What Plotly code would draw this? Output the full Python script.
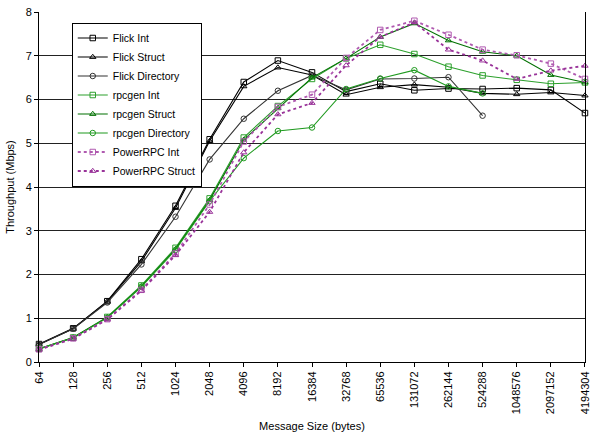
import plotly.graph_objects as go

sizes = ["64", "128", "256", "512", "1024", "2048", "4096", "8192", "16384",
         "32768", "65536", "131072", "262144", "524288", "1048576", "2097152", "4194304"]

flick_int = [0.41, 0.77, 1.39, 2.35, 3.57, 5.09, 6.40, 6.89, 6.62, 6.18, 6.36, 6.21, 6.25, 6.24, 6.26, 6.22, 5.69]
flick_struct = [0.40, 0.76, 1.38, 2.30, 3.52, 5.05, 6.30, 6.73, 6.56, 6.11, 6.28, 6.34, 6.28, 6.14, 6.12, 6.16, 6.09]
flick_dir = [0.40, 0.76, 1.36, 2.23, 3.32, 4.63, 5.56, 6.20, 6.55, 6.22, 6.47, 6.48, 6.51, 5.63]
rpcgen_int = [0.30, 0.56, 1.03, 1.75, 2.61, 3.74, 5.13, 5.85, 6.47, 6.94, 7.25, 7.04, 6.75, 6.55, 6.45, 6.36, 6.39]
rpcgen_struct = [0.30, 0.56, 1.02, 1.73, 2.58, 3.70, 5.08, 5.80, 6.50, 6.94, 7.43, 7.74, 7.35, 7.09, 7.00, 6.56, 6.39]
rpcgen_dir = [0.30, 0.55, 1.01, 1.72, 2.56, 3.68, 4.66, 5.28, 5.36, 6.24, 6.48, 6.67, 6.30, 6.14]
power_int = [0.29, 0.54, 0.98, 1.65, 2.48, 3.60, 5.04, 5.83, 6.11, 6.95, 7.59, 7.80, 7.48, 7.14, 7.01, 6.82, 6.47]
power_struct = [0.28, 0.53, 0.97, 1.63, 2.44, 3.43, 4.79, 5.66, 5.92, 6.78, 7.43, 7.76, 7.14, 6.89, 6.47, 6.66, 6.77]

series = [
    ("Flick Int", flick_int, "#000000", "square-open", "solid"),
    ("Flick Struct", flick_struct, "#000000", "triangle-up-open", "solid"),
    ("Flick Directory", flick_dir, "#333333", "circle-open", "solid"),
    ("rpcgen Int", rpcgen_int, "#2ca02c", "square-open", "solid"),
    ("rpcgen Struct", rpcgen_struct, "#007000", "triangle-up-open", "solid"),
    ("rpcgen Directory", rpcgen_dir, "#1f9a1f", "circle-open", "solid"),
    ("PowerRPC Int", power_int, "#b05ab0", "square-open", "dot"),
    ("PowerRPC Struct", power_struct, "#993399", "triangle-up-open", "dot"),
]

fig = go.Figure()
for name, vals, color, sym, dash in series:
    fig.add_trace(go.Scatter(
        x=sizes[:len(vals)], y=vals, name=name, mode="lines+markers",
        line=dict(color=color, width=1.1 if dash == "solid" else 1.8, dash=dash),
        marker=dict(symbol=sym, size=5.5, color=color, line=dict(width=1, color=color)),
        cliponaxis=False,
    ))

fig.update_layout(
    width=597, height=444,
    margin=dict(l=39, r=6, t=8, b=82),
    plot_bgcolor="white", paper_bgcolor="white",
    font=dict(family="Liberation Sans, Arial, sans-serif", size=11, color="black"),
    showlegend=True,
    legend=dict(x=0.06, y=0.97, xanchor="left", yanchor="top",
                bgcolor="white", bordercolor="black", borderwidth=1,
                font=dict(size=10.5), tracegroupgap=0, itemwidth=30),
    xaxis=dict(type="category", categoryorder="array", categoryarray=sizes,
               range=[-0.001, 16.001], tickangle=-90, showgrid=False, automargin=True,
               showline=True, linecolor="black", linewidth=1,
               ticks="outside", ticklen=4, tickcolor="black",
               title=dict(text="Message Size (bytes)", font=dict(size=11), standoff=9)),
    yaxis=dict(range=[0, 8], dtick=1, showgrid=True, gridcolor="#222222", gridwidth=1,
               showline=True, linecolor="black", linewidth=1, mirror=True, automargin=True,
               ticks="outside", ticklen=4, tickcolor="black", zeroline=False,
               title=dict(text="Throughput (Mbps)", font=dict(size=11), standoff=8)),
)

fig.write_html("out.html", config={"displayModeBar": False},
               post_script="document.body.style.margin='0';")
